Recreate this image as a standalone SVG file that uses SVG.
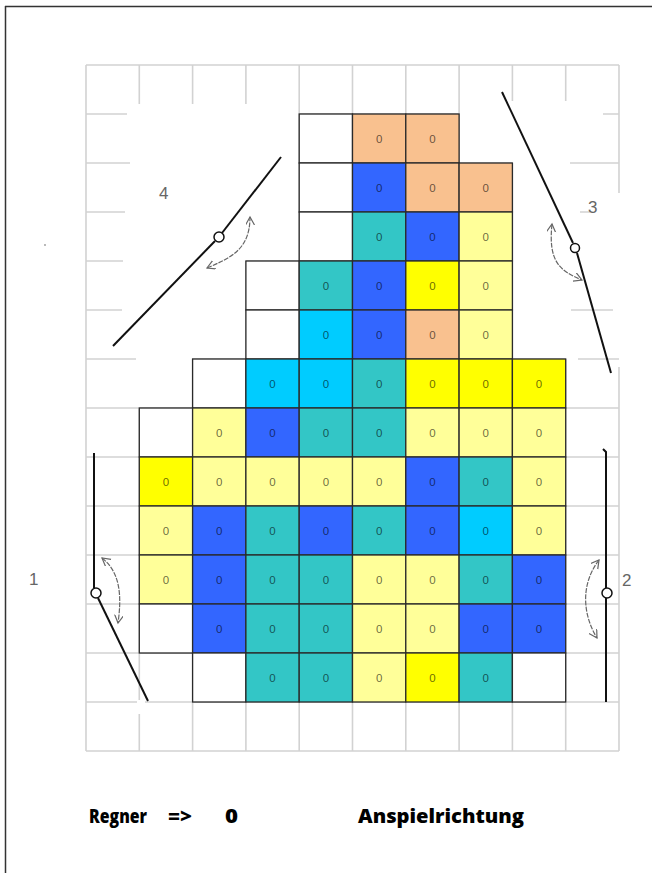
<svg xmlns="http://www.w3.org/2000/svg" width="652" height="873" viewBox="0 0 652 873">
<style>
.grid{fill:none;stroke:#d2d2d2;stroke-width:1.6}
.cell rect{stroke:#2a2a2a;stroke-width:1.3}
.wh{fill:#ffffff}.pe{fill:#f9c18f}.bl{fill:#3366ff}.te{fill:#33c6c6}.cy{fill:#00ccff}.ye{fill:#ffff00}.ly{fill:#ffff99}
.cell text{font-family:"Liberation Sans",Arial,sans-serif;font-size:11.5px;text-anchor:middle;fill:#000;fill-opacity:0.6}
.arm{fill:none;stroke:#111;stroke-width:2}
.pivot{fill:#fff;stroke:#111;stroke-width:1.5}
.sw{fill:none;stroke:#666;stroke-width:1.2;stroke-dasharray:5 1.2}
.lbl{font-family:"Liberation Sans",Arial,sans-serif;font-size:17px;fill:#666}
.leg{font-family:"Open Sans","Liberation Sans",sans-serif;font-size:19px;font-weight:800;fill:#000}
</style>
<defs>
<marker id="ah" markerUnits="userSpaceOnUse" markerWidth="12" markerHeight="12" refX="8" refY="4.5" orient="auto-start-reverse">
<path d="M0,0 L8,4.5 L0,9" fill="none" stroke="#666" stroke-width="1.2"/>
</marker>
</defs>
<rect width="652" height="873" fill="#fff"/>
<path d="M5,6.5H652 M5.5,6V873" fill="none" stroke="#333" stroke-width="1.5"/>
<circle cx="45" cy="245" r="0.9" fill="#999"/>
<g id="grid">
<path class="grid" d="M86,65V751 M139.3,65V104 M139.3,408V700 M139.3,714V751 M192.6,65V104 M192.6,359V751 M245.9,65V104 M245.9,261V751 M299.2,65V751 M352.5,65V751 M405.8,65V751 M459.1,65V751 M512.4,65V101 M512.4,163V751 M565.7,65V101 M565.7,359V751 M619,65V193 M619,367V751 M86,65H619 M86,114H127 M299,114H459 M603,114H619 M86,163H130 M299,163H512 M570,163H619 M86,212H125 M299,212H512 M580,212H590 M86,261H123 M246,261H512 M86,310H122 M246,310H512 M571,310H613 M86,359H136 M192,359H566 M578,359H619 M86,408H619 M86,457H619 M86,506H619 M86,555H619 M86,604H619 M86,653H619 M86,702H137 M145,702H619 M86,751H619"/>
</g>
<g id="cells">
<g id="r1c4" class="cell"><rect class="wh" x="299.2" y="114" width="53.3" height="49"/></g>
<g id="r1c5" class="cell"><rect class="pe" x="352.5" y="114" width="53.3" height="49"/><text x="379.15" y="142.5">0</text></g>
<g id="r1c6" class="cell"><rect class="pe" x="405.8" y="114" width="53.3" height="49"/><text x="432.45" y="142.5">0</text></g>

<g id="r2c4" class="cell"><rect class="wh" x="299.2" y="163" width="53.3" height="49"/></g>
<g id="r2c5" class="cell"><rect class="bl" x="352.5" y="163" width="53.3" height="49"/><text x="379.15" y="191.5">0</text></g>
<g id="r2c6" class="cell"><rect class="pe" x="405.8" y="163" width="53.3" height="49"/><text x="432.45" y="191.5">0</text></g>
<g id="r2c7" class="cell"><rect class="pe" x="459.1" y="163" width="53.3" height="49"/><text x="485.75" y="191.5">0</text></g>

<g id="r3c4" class="cell"><rect class="wh" x="299.2" y="212" width="53.3" height="49"/></g>
<g id="r3c5" class="cell"><rect class="te" x="352.5" y="212" width="53.3" height="49"/><text x="379.15" y="240.5">0</text></g>
<g id="r3c6" class="cell"><rect class="bl" x="405.8" y="212" width="53.3" height="49"/><text x="432.45" y="240.5">0</text></g>
<g id="r3c7" class="cell"><rect class="ly" x="459.1" y="212" width="53.3" height="49"/><text x="485.75" y="240.5">0</text></g>

<g id="r4c3" class="cell"><rect class="wh" x="245.9" y="261" width="53.3" height="49"/></g>
<g id="r4c4" class="cell"><rect class="te" x="299.2" y="261" width="53.3" height="49"/><text x="325.85" y="289.5">0</text></g>
<g id="r4c5" class="cell"><rect class="bl" x="352.5" y="261" width="53.3" height="49"/><text x="379.15" y="289.5">0</text></g>
<g id="r4c6" class="cell"><rect class="ye" x="405.8" y="261" width="53.3" height="49"/><text x="432.45" y="289.5">0</text></g>
<g id="r4c7" class="cell"><rect class="ly" x="459.1" y="261" width="53.3" height="49"/><text x="485.75" y="289.5">0</text></g>

<g id="r5c3" class="cell"><rect class="wh" x="245.9" y="310" width="53.3" height="49"/></g>
<g id="r5c4" class="cell"><rect class="cy" x="299.2" y="310" width="53.3" height="49"/><text x="325.85" y="338.5">0</text></g>
<g id="r5c5" class="cell"><rect class="bl" x="352.5" y="310" width="53.3" height="49"/><text x="379.15" y="338.5">0</text></g>
<g id="r5c6" class="cell"><rect class="pe" x="405.8" y="310" width="53.3" height="49"/><text x="432.45" y="338.5">0</text></g>
<g id="r5c7" class="cell"><rect class="ly" x="459.1" y="310" width="53.3" height="49"/><text x="485.75" y="338.5">0</text></g>

<g id="r6c2" class="cell"><rect class="wh" x="192.6" y="359" width="53.3" height="49"/></g>
<g id="r6c3" class="cell"><rect class="cy" x="245.9" y="359" width="53.3" height="49"/><text x="272.55" y="387.5">0</text></g>
<g id="r6c4" class="cell"><rect class="cy" x="299.2" y="359" width="53.3" height="49"/><text x="325.85" y="387.5">0</text></g>
<g id="r6c5" class="cell"><rect class="te" x="352.5" y="359" width="53.3" height="49"/><text x="379.15" y="387.5">0</text></g>
<g id="r6c6" class="cell"><rect class="ye" x="405.8" y="359" width="53.3" height="49"/><text x="432.45" y="387.5">0</text></g>
<g id="r6c7" class="cell"><rect class="ye" x="459.1" y="359" width="53.3" height="49"/><text x="485.75" y="387.5">0</text></g>
<g id="r6c8" class="cell"><rect class="ye" x="512.4" y="359" width="53.3" height="49"/><text x="539.05" y="387.5">0</text></g>

<g id="r7c1" class="cell"><rect class="wh" x="139.3" y="408" width="53.3" height="49"/></g>
<g id="r7c2" class="cell"><rect class="ly" x="192.6" y="408" width="53.3" height="49"/><text x="219.25" y="436.5">0</text></g>
<g id="r7c3" class="cell"><rect class="bl" x="245.9" y="408" width="53.3" height="49"/><text x="272.55" y="436.5">0</text></g>
<g id="r7c4" class="cell"><rect class="te" x="299.2" y="408" width="53.3" height="49"/><text x="325.85" y="436.5">0</text></g>
<g id="r7c5" class="cell"><rect class="te" x="352.5" y="408" width="53.3" height="49"/><text x="379.15" y="436.5">0</text></g>
<g id="r7c6" class="cell"><rect class="ly" x="405.8" y="408" width="53.3" height="49"/><text x="432.45" y="436.5">0</text></g>
<g id="r7c7" class="cell"><rect class="ly" x="459.1" y="408" width="53.3" height="49"/><text x="485.75" y="436.5">0</text></g>
<g id="r7c8" class="cell"><rect class="ly" x="512.4" y="408" width="53.3" height="49"/><text x="539.05" y="436.5">0</text></g>

<g id="r8c1" class="cell"><rect class="ye" x="139.3" y="457" width="53.3" height="49"/><text x="165.95" y="485.5">0</text></g>
<g id="r8c2" class="cell"><rect class="ly" x="192.6" y="457" width="53.3" height="49"/><text x="219.25" y="485.5">0</text></g>
<g id="r8c3" class="cell"><rect class="ly" x="245.9" y="457" width="53.3" height="49"/><text x="272.55" y="485.5">0</text></g>
<g id="r8c4" class="cell"><rect class="ly" x="299.2" y="457" width="53.3" height="49"/><text x="325.85" y="485.5">0</text></g>
<g id="r8c5" class="cell"><rect class="ly" x="352.5" y="457" width="53.3" height="49"/><text x="379.15" y="485.5">0</text></g>
<g id="r8c6" class="cell"><rect class="bl" x="405.8" y="457" width="53.3" height="49"/><text x="432.45" y="485.5">0</text></g>
<g id="r8c7" class="cell"><rect class="te" x="459.1" y="457" width="53.3" height="49"/><text x="485.75" y="485.5">0</text></g>
<g id="r8c8" class="cell"><rect class="ly" x="512.4" y="457" width="53.3" height="49"/><text x="539.05" y="485.5">0</text></g>

<g id="r9c1" class="cell"><rect class="ly" x="139.3" y="506" width="53.3" height="49"/><text x="165.95" y="534.5">0</text></g>
<g id="r9c2" class="cell"><rect class="bl" x="192.6" y="506" width="53.3" height="49"/><text x="219.25" y="534.5">0</text></g>
<g id="r9c3" class="cell"><rect class="te" x="245.9" y="506" width="53.3" height="49"/><text x="272.55" y="534.5">0</text></g>
<g id="r9c4" class="cell"><rect class="bl" x="299.2" y="506" width="53.3" height="49"/><text x="325.85" y="534.5">0</text></g>
<g id="r9c5" class="cell"><rect class="te" x="352.5" y="506" width="53.3" height="49"/><text x="379.15" y="534.5">0</text></g>
<g id="r9c6" class="cell"><rect class="bl" x="405.8" y="506" width="53.3" height="49"/><text x="432.45" y="534.5">0</text></g>
<g id="r9c7" class="cell"><rect class="cy" x="459.1" y="506" width="53.3" height="49"/><text x="485.75" y="534.5">0</text></g>
<g id="r9c8" class="cell"><rect class="ly" x="512.4" y="506" width="53.3" height="49"/><text x="539.05" y="534.5">0</text></g>

<g id="r10c1" class="cell"><rect class="ly" x="139.3" y="555" width="53.3" height="49"/><text x="165.95" y="583.5">0</text></g>
<g id="r10c2" class="cell"><rect class="bl" x="192.6" y="555" width="53.3" height="49"/><text x="219.25" y="583.5">0</text></g>
<g id="r10c3" class="cell"><rect class="te" x="245.9" y="555" width="53.3" height="49"/><text x="272.55" y="583.5">0</text></g>
<g id="r10c4" class="cell"><rect class="te" x="299.2" y="555" width="53.3" height="49"/><text x="325.85" y="583.5">0</text></g>
<g id="r10c5" class="cell"><rect class="ly" x="352.5" y="555" width="53.3" height="49"/><text x="379.15" y="583.5">0</text></g>
<g id="r10c6" class="cell"><rect class="ly" x="405.8" y="555" width="53.3" height="49"/><text x="432.45" y="583.5">0</text></g>
<g id="r10c7" class="cell"><rect class="te" x="459.1" y="555" width="53.3" height="49"/><text x="485.75" y="583.5">0</text></g>
<g id="r10c8" class="cell"><rect class="bl" x="512.4" y="555" width="53.3" height="49"/><text x="539.05" y="583.5">0</text></g>

<g id="r11c1" class="cell"><rect class="wh" x="139.3" y="604" width="53.3" height="49"/></g>
<g id="r11c2" class="cell"><rect class="bl" x="192.6" y="604" width="53.3" height="49"/><text x="219.25" y="632.5">0</text></g>
<g id="r11c3" class="cell"><rect class="te" x="245.9" y="604" width="53.3" height="49"/><text x="272.55" y="632.5">0</text></g>
<g id="r11c4" class="cell"><rect class="te" x="299.2" y="604" width="53.3" height="49"/><text x="325.85" y="632.5">0</text></g>
<g id="r11c5" class="cell"><rect class="ly" x="352.5" y="604" width="53.3" height="49"/><text x="379.15" y="632.5">0</text></g>
<g id="r11c6" class="cell"><rect class="ly" x="405.8" y="604" width="53.3" height="49"/><text x="432.45" y="632.5">0</text></g>
<g id="r11c7" class="cell"><rect class="bl" x="459.1" y="604" width="53.3" height="49"/><text x="485.75" y="632.5">0</text></g>
<g id="r11c8" class="cell"><rect class="bl" x="512.4" y="604" width="53.3" height="49"/><text x="539.05" y="632.5">0</text></g>

<g id="r12c2" class="cell"><rect class="wh" x="192.6" y="653" width="53.3" height="49"/></g>
<g id="r12c3" class="cell"><rect class="te" x="245.9" y="653" width="53.3" height="49"/><text x="272.55" y="681.5">0</text></g>
<g id="r12c4" class="cell"><rect class="te" x="299.2" y="653" width="53.3" height="49"/><text x="325.85" y="681.5">0</text></g>
<g id="r12c5" class="cell"><rect class="ly" x="352.5" y="653" width="53.3" height="49"/><text x="379.15" y="681.5">0</text></g>
<g id="r12c6" class="cell"><rect class="ye" x="405.8" y="653" width="53.3" height="49"/><text x="432.45" y="681.5">0</text></g>
<g id="r12c7" class="cell"><rect class="te" x="459.1" y="653" width="53.3" height="49"/><text x="485.75" y="681.5">0</text></g>
<g id="r12c8" class="cell"><rect class="wh" x="512.4" y="653" width="53.3" height="49"/></g>
</g>

<g id="connectors">
<path class="sw" d="M207,268 C230,258 250,250 250,217" marker-start="url(#ah)" marker-end="url(#ah)"/>
<path class="sw" d="M552,224 C548,262 560,271 582,280" marker-start="url(#ah)" marker-end="url(#ah)"/>
<path class="sw" d="M102,558 C120,572 122,595 118,623" marker-start="url(#ah)" marker-end="url(#ah)"/>
<path class="sw" d="M599,560 C580,585 583,615 597,638" marker-start="url(#ah)" marker-end="url(#ah)"/>
</g>

<g id="sprinkler4">
<polyline class="arm" points="113,346 215,241"/><polyline class="arm" points="222,233 281,157"/>
<circle class="pivot" cx="219" cy="237" r="5"/>
<text class="lbl" x="159" y="199">4</text>
</g>
<g id="sprinkler3">
<polyline class="arm" points="502,92 573,243"/><polyline class="arm" points="577,253 611,373"/>
<circle class="pivot" cx="575" cy="248" r="4.5"/>
<text class="lbl" x="588" y="213">3</text>
</g>
<g id="sprinkler1">
<polyline class="arm" points="94,453 94,588"/><polyline class="arm" points="98,598 148,701"/>
<circle class="pivot" cx="96" cy="593" r="5"/>
<text class="lbl" x="29" y="585">1</text>
</g>
<g id="sprinkler2">
<polyline class="arm" points="603,449 606,452 606,588"/><polyline class="arm" points="606,598 606,702"/>
<circle class="pivot" cx="607" cy="593" r="5"/>
<text class="lbl" x="622" y="586">2</text>
</g>

<g id="legend">
<text class="leg" x="89" y="823" textLength="58" lengthAdjust="spacingAndGlyphs">Regner</text>
<text class="leg" x="168" y="823" textLength="24" lengthAdjust="spacingAndGlyphs">=&gt;</text>
<text class="leg" x="225" y="823" textLength="13" lengthAdjust="spacingAndGlyphs">0</text>
<text class="leg" x="358" y="823" textLength="166" lengthAdjust="spacingAndGlyphs">Anspielrichtung</text>
</g>
</svg>
